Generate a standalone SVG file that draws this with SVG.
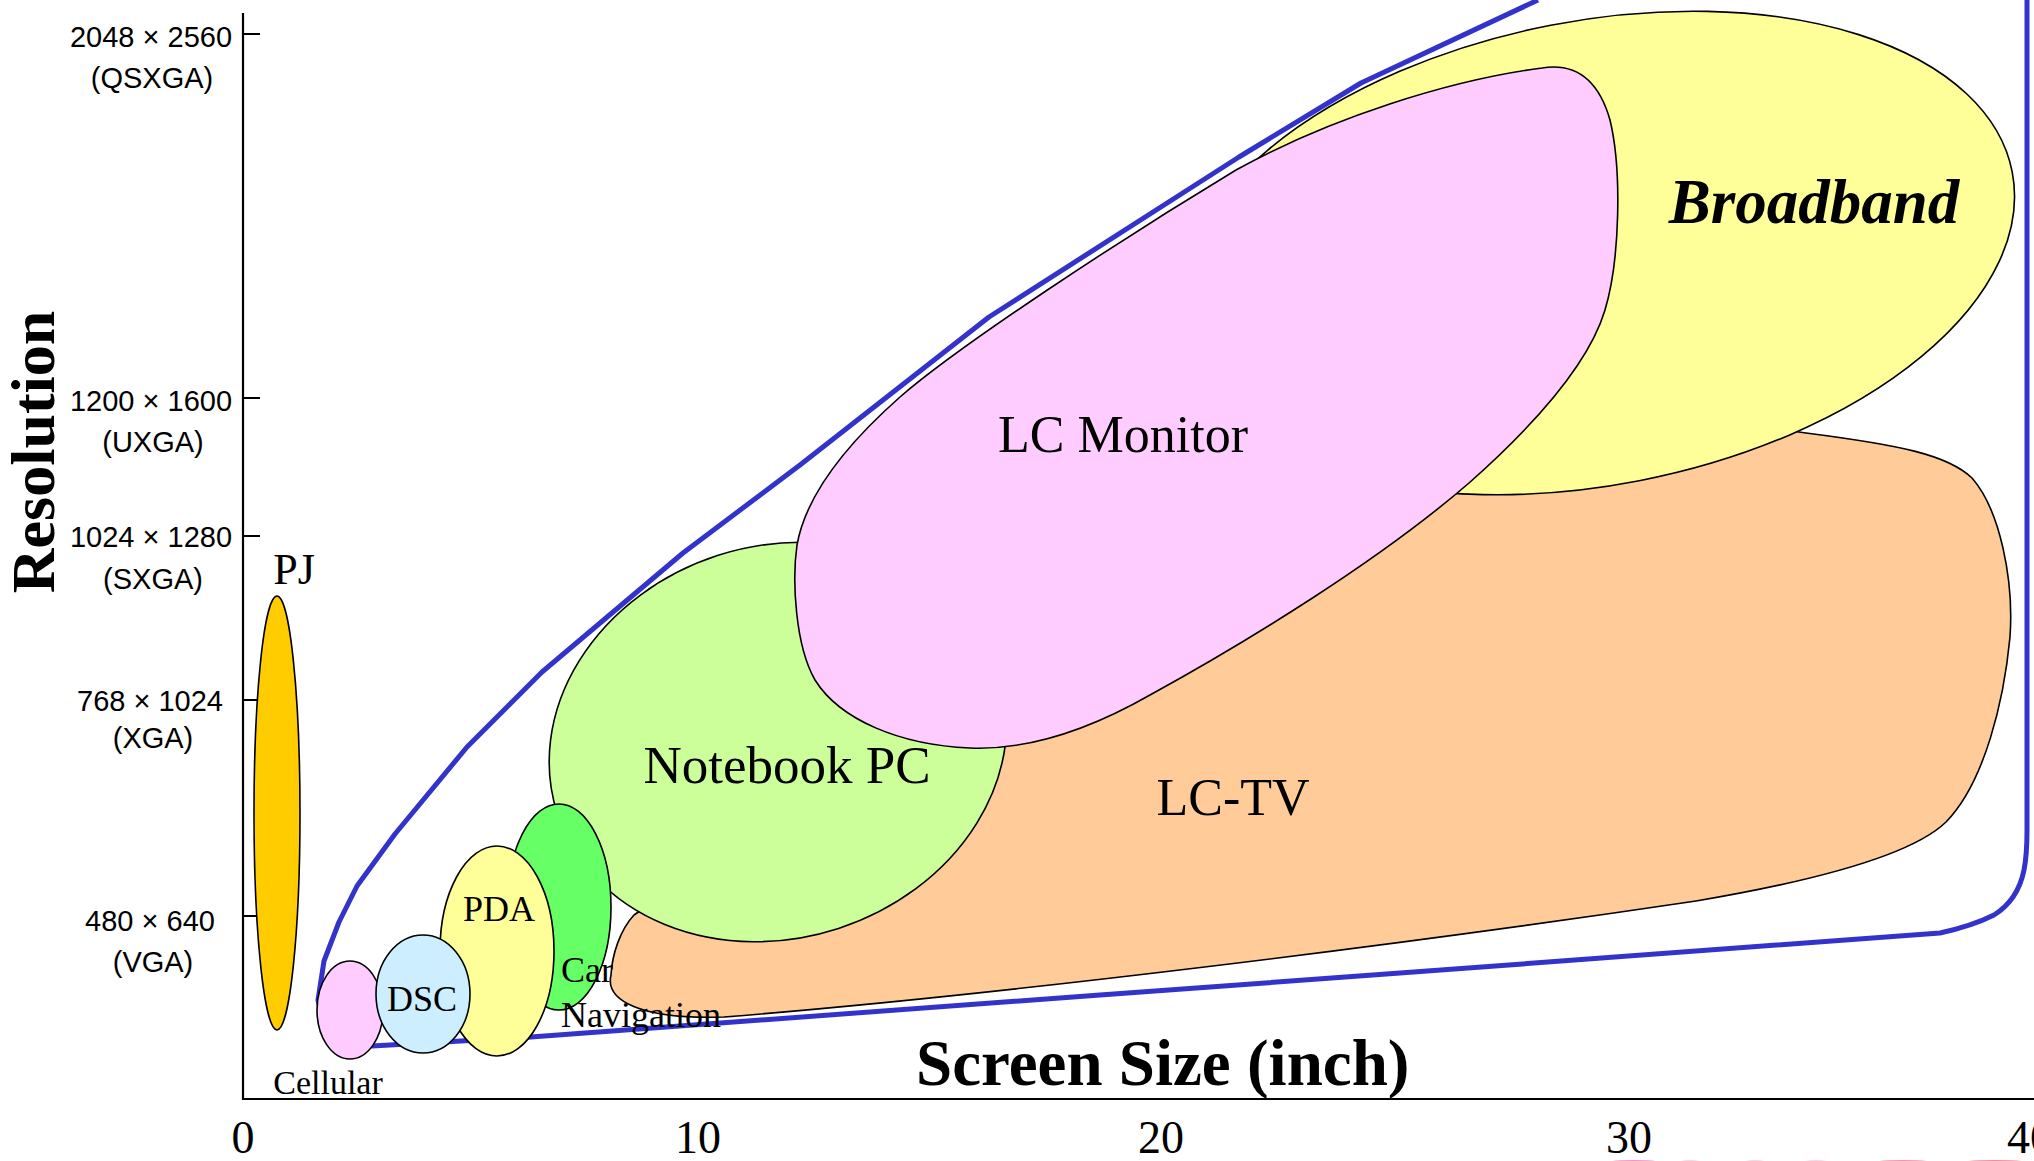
<svg xmlns="http://www.w3.org/2000/svg" width="2034" height="1161" viewBox="0 0 2034 1161">
<style>
.bg{fill:#ffffff}
.shape{stroke:#000000;stroke-width:1.6}
.axis{stroke:#000000;stroke-width:2.2;fill:none}
.bound{stroke:#3333CC;stroke-width:5;fill:none;stroke-linejoin:round}
.tick{font-family:"Liberation Sans",Arial,sans-serif;font-size:29px;fill:#000;text-anchor:middle}
.lbl{font-family:"Liberation Serif","Times New Roman",serif;fill:#000}
.c{text-anchor:middle}
.num{font-family:"Liberation Serif","Times New Roman",serif;font-size:46px;fill:#000;text-anchor:middle}
.title{font-family:"Liberation Serif","Times New Roman",serif;font-weight:bold;fill:#000}
</style>
<rect class="bg" x="0" y="0" width="2034" height="1161"/>

<g id="connectors">
<path class="bound" d="M1538,0 L1361,83 L1239,157 L989,317 L800,465 L683,553 L542,672 L467,747 L395,834 L357,886 L339,922 L324,961 L318,1000 Q326,1045 372,1046 L531,1037 L1100,995 L1400,973 L1940,933 Q1972,926 1994,915 Q2018,900 2024,870 Q2027,855 2027,830 L2027,0"/>
</g>

<g id="axes">
<path class="axis" d="M243,13 L243,1099 L2034,1099"/>
<path class="axis" d="M243,34 H260 M243,398 H260 M243,536 H260 M243,700 H260 M243,916 H260"/>
<text class="tick" x="151" y="47">2048 × 2560</text>
<text class="tick" x="152" y="88">(QSXGA)</text>
<text class="tick" x="151" y="411">1200 × 1600</text>
<text class="tick" x="153" y="452">(UXGA)</text>
<text class="tick" x="151" y="547">1024 × 1280</text>
<text class="tick" x="153" y="589">(SXGA)</text>
<text class="tick" x="150" y="711">768 × 1024</text>
<text class="tick" x="153" y="748">(XGA)</text>
<text class="tick" x="150" y="931">480 × 640</text>
<text class="tick" x="153" y="972">(VGA)</text>
<text class="num" x="243" y="1153">0</text>
<text class="num" x="698" y="1153">10</text>
<text class="num" x="1161" y="1153">20</text>
<text class="num" x="1629" y="1153">30</text>
<text class="num" x="2007" y="1153" style="text-anchor:start">40</text>
<text class="title" transform="translate(54,452) rotate(-90)" style="font-size:62px;text-anchor:middle">Resolution</text>
<text class="title" x="916" y="1085" style="font-size:65px">Screen Size (inch)</text>
</g>

<g id="lc-tv">
<path class="shape" fill="#FFCC99" d="M611,975 C605,1000 640,1020 724,1017 C1000,995 1400,945 1696,901 C1820,880 1912,855 1946,822 C1985,782 2004,700 2010,637 C2014,580 2000,510 1972,478 C1948,455 1900,445 1806,433 C1650,410 1450,440 1300,560 C1150,650 800,800 634,915 C620,930 612,955 611,975 Z"/>
<text class="lbl c" x="1233" y="815" font-size="52">LC-TV</text>
</g>

<g id="broadband">
<ellipse class="shape" fill="#FFFF99" cx="0" cy="0" rx="425" ry="232" transform="translate(1595,253) rotate(-11)"/>
<text class="lbl c" x="1814" y="223" font-size="63" font-weight="bold" font-style="italic">Broadband</text>
</g>

<g id="notebook-pc">
<ellipse class="shape" fill="#CCFF99" cx="0" cy="0" rx="232" ry="196" transform="translate(778,742) rotate(-18)"/>
<text class="lbl c" x="787" y="783" font-size="53">Notebook PC</text>
</g>

<g id="lc-monitor">
<path class="shape" fill="#FFCCFF" d="M1542,68 C1580,62 1600,85 1610,120 C1622,170 1620,260 1605,310 C1590,360 1540,420 1469,483 C1380,560 1250,640 1150,695 C1080,735 1020,750 970,748 C900,745 840,720 815,680 C795,645 792,580 797,545 C805,500 840,450 900,397 C960,345 1120,240 1236,170 C1330,118 1450,80 1542,68 Z"/>
<text class="lbl c" x="1123" y="452" font-size="52">LC Monitor</text>
</g>

<g id="car-navigation">
<ellipse class="shape" fill="#66FF66" cx="559" cy="907" rx="52" ry="103"/>
</g>

<g id="pda">
<ellipse class="shape" fill="#FFFF99" cx="497" cy="951" rx="57" ry="105"/>
<text class="lbl c" x="499" y="921" font-size="36">PDA</text>
</g>

<g id="cellular">
<ellipse class="shape" fill="#FFCCFF" cx="350" cy="1010" rx="33" ry="49"/>
<text class="lbl c" x="328" y="1094" font-size="34">Cellular</text>
</g>

<g id="dsc">
<ellipse class="shape" fill="#CCEEFF" cx="423" cy="994" rx="47" ry="59"/>
<text class="lbl c" x="422" y="1011" font-size="36">DSC</text>
</g>

<g id="car-navigation-label">
<text class="lbl" x="561" y="982" font-size="36">Car</text>
<text class="lbl" x="561" y="1027" font-size="36">Navigation</text>
</g>

<g id="pj">
<ellipse class="shape" fill="#FFCC00" cx="277" cy="813" rx="23" ry="217"/>
<text class="lbl c" x="294" y="584" font-size="44">PJ</text>
</g>

<g id="bottom-marks" opacity="0.55">
<ellipse cx="1634" cy="1164" rx="33" ry="4" fill="#FF3399"/>
<ellipse cx="1690" cy="1164" rx="14" ry="4" fill="#FFAACC"/>
<ellipse cx="1755" cy="1164" rx="14" ry="4" fill="#FFAACC"/>
<ellipse cx="1816" cy="1164" rx="16" ry="4" fill="#FFAACC"/>
<ellipse cx="1903" cy="1164" rx="36" ry="4" fill="#FF3366"/>
<ellipse cx="1995" cy="1164" rx="40" ry="4" fill="#FF2244"/>
</g>
</svg>
